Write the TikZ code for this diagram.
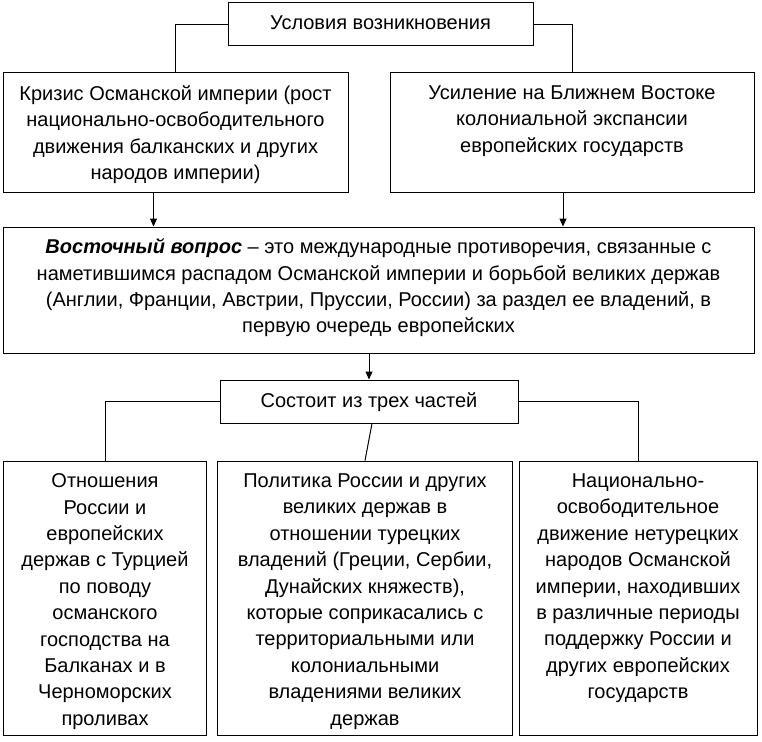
\documentclass[tikz,border=0pt]{standalone}
\usepackage{fontspec}
\setmainfont{Liberation Sans}
\usepackage{tikz}
\usetikzlibrary{arrows.meta,positioning,calc}

\begin{document}
\begin{tikzpicture}[x=1pt,y=-1pt,
  font=\fontsize{20}{26.4}\selectfont,
  box/.style={rectangle,draw,line width=1pt,inner sep=0pt},
  txt/.style={align=center,inner sep=0pt,anchor=north},
  ar/.style={-{Triangle[length=8pt,width=7pt]},line width=1pt}]
  \useasboundingbox (0,0) rectangle (762,741);
  % boxes
  \node[box,minimum width=305,minimum height=43] (cond) at (380.5,24.5) {};
  \node[box,minimum width=345,minimum height=119] (krizis) at (175.5,132.5) {};
  \node[box,minimum width=364,minimum height=119] (usil) at (572,132.5) {};
  \node[box,minimum width=751,minimum height=126] (vopros) at (378.5,290) {};
  \node[box,minimum width=298,minimum height=43] (parts) at (369,401.5) {};
  \node[box,minimum width=203,minimum height=274] (rel) at (105,598) {};
  \node[box,minimum width=295,minimum height=274] (pol) at (365,598) {};
  \node[box,minimum width=238,minimum height=274] (nat) at (638,598) {};
  % texts
  \node[txt,below=13pt of cond.north] (condtxt) {Условия возникновения};
  \node[txt,below=13pt of krizis.north] (krizistxt) {Кризис Османской империи (рост\\национально-освободительного\\движения балканских и других\\народов империи)};
  \node[txt,below=13pt of usil.north] (usiltxt) {Усиление на Ближнем Востоке\\колониальной экспансии\\европейских государств};
  \node[txt,below=12pt of vopros.north] (voprostxt) {\textbf{\textit{Восточный вопрос}} – это международные противоречия, связанные с\\наметившимся распадом Османской империи и борьбой великих держав\\(Англии, Франции, Австрии, Пруссии, России) за раздел ее владений, в\\первую очередь европейских};
  \node[txt,below=13pt of parts.north] (partstxt) {Состоит из трех частей};
  \node[txt,below=13pt of rel.north] (reltxt) {Отношения\\России и\\европейских\\держав с Турцией\\по поводу\\османского\\господства на\\Балканах и в\\Черноморских\\проливах};
  \node[txt,below=13pt of pol.north] (poltxt) {Политика России и других\\великих держав в\\отношении турецких\\владений (Греции, Сербии,\\Дунайских княжеств),\\которые соприкасались с\\территориальными или\\колониальными\\владениями великих\\держав};
  \node[txt,below=13pt of nat.north] (nattxt) {Национально-\\освободительное\\движение нетурецких\\народов Османской\\империи, находивших\\в различные периоды\\поддержку России и\\других европейских\\государств};
  % connectors
  \draw[line width=1pt] (cond.west) -| (krizis.north);
  \draw[line width=1pt] (cond.east) -| (usil.north);
  \draw[ar] ([xshift=-22pt]krizis.south) -- ([xshift=-22pt]krizis.south |- vopros.north);
  \draw[ar] ([xshift=-9pt]usil.south) -- ([xshift=-9pt]usil.south |- vopros.north);
  \draw[ar] (vopros.south -| parts.north) -- (parts.north);
  \draw[line width=1pt] (parts.west) -| (rel.north);
  \draw[line width=1pt] (parts.east) -| (nat.north);
  \draw[line width=1pt] ([xshift=3pt]parts.south) -- (pol.north);
\end{tikzpicture}
\end{document}
